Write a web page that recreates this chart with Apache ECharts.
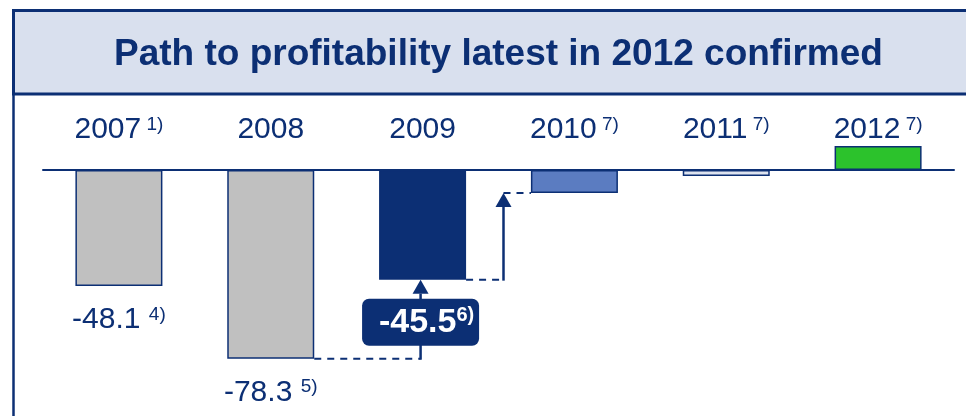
<!DOCTYPE html>
<html>
<head>
<meta charset="utf-8">
<title>Path to profitability</title>
<script src="https://cdn.jsdelivr.net/npm/echarts@6/dist/echarts.min.js"></script>
<style>
  html, body { margin: 0; padding: 0; background: #ffffff; }
  #chart { width: 966px; height: 416px; }
</style>
</head>
<body>
<div id="chart"></div>
<script>
// EBIT by year (EUR m) with footnote markers
const years = ['2007', '2008', '2009', '2010', '2011', '2012'];
const yearNotes = ['1)', '', '', '7)', '7)', '7)'];
const ebit = [-48.1, -78.3, -45.5, -9.5, -2.5, 10];
const valueNotes = ['4)', '5)', '6)', '', '', ''];
// year-to-year improvement arrows: [from index, to index]
const steps = [[1, 2], [2, 3]];
const calloutYear = 2; // value shown in the boxed callout instead of under the bar

const NAVY = '#0c2f74';
const FONT = 'Liberation Sans, Arial, sans-serif';
const barFills = ['#c0c0c0', '#c0c0c0', NAVY, '#5b7cc1', '#dde3ef', '#2cc22c'];
const BAR_W = 87;
const GRID_TOP = 109.75;
const ZERO_Y = 170;

const chart = echarts.init(document.getElementById('chart'), null, { renderer: 'canvas' });

const barData = ebit.map((v, i) => ({
  value: v,
  itemStyle: { color: barFills[i], borderColor: NAVY, borderWidth: 1.5 },
  label: { show: valueNotes[i] !== '' && i !== calloutYear }
}));

function renderStep(params, api) {
  const a = api.value(0);
  const b = api.value(1);
  const pa = api.coord([a, ebit[a]]);
  const pb = api.coord([b, ebit[b]]);
  const half = BAR_W / 2;
  const headH = 14, headW = 16;
  const dashed = { stroke: NAVY, lineWidth: 2, lineDash: [7, 6], fill: null };
  const solid = { stroke: NAVY, lineWidth: 2.5, fill: null };
  const children = [];
  const underTarget = params.dataIndex === 0;
  const ax = underTarget ? pb[0] - 2 : (pa[0] + half + pb[0] - half) / 2 + 5;

  children.push({ type: 'line', shape: { x1: pa[0] + half, y1: pa[1], x2: ax, y2: pa[1] }, style: dashed });
  children.push({ type: 'line', shape: { x1: ax, y1: pa[1] + 1, x2: ax, y2: pb[1] + headH }, style: solid });
  children.push({
    type: 'polygon',
    shape: { points: [[ax, pb[1]], [ax - headW / 2, pb[1] + headH], [ax + headW / 2, pb[1] + headH]] },
    style: { fill: NAVY }
  });
  if (!underTarget) {
    children.push({ type: 'line', shape: { x1: ax, y1: pb[1], x2: pb[0] - half, y2: pb[1] }, style: dashed });
  } else {
    const cy = (pa[1] + pb[1]) / 2 + 3;
    const bw = 117, bh = 47;
    children.push({
      type: 'rect',
      shape: { x: ax - bw / 2, y: cy - bh / 2, width: bw, height: bh, r: 7 },
      style: { fill: NAVY }
    });
    children.push({
      type: 'text',
      x: ax + 6,
      y: cy,
      style: {
        text: '{v|' + ebit[b] + '}{n|' + valueNotes[b] + '}',
        align: 'center',
        verticalAlign: 'middle',
        rich: {
          v: { fontFamily: FONT, fontSize: 34, fontWeight: 'bold', fill: '#ffffff', lineHeight: 34 },
          n: { fontFamily: FONT, fontSize: 20, fontWeight: 'bold', fill: '#ffffff', lineHeight: 20, verticalAlign: 'top' }
        }
      }
    });
  }
  return { type: 'group', children: children };
}

chart.setOption({
  animation: false,
  backgroundColor: '#ffffff',
  title: {
    text: 'Path to profitability latest in 2012 confirmed',
    left: 114,
    top: 36,
    padding: 0,
    z: 10,
    textStyle: { fontFamily: FONT, fontSize: 37, fontWeight: 'bold', color: NAVY, lineHeight: 37 }
  },
  graphic: {
    elements: [
      {
        type: 'rect', z: 0, silent: true,
        shape: { x: 13.5, y: 10.5, width: 980, height: 83.5 },
        style: { fill: '#d9e0ee', stroke: NAVY, lineWidth: 3 }
      },
      {
        type: 'line', z: 0, silent: true,
        shape: { x1: 13.5, y1: 94, x2: 13.5, y2: 420 },
        style: { stroke: NAVY, lineWidth: 2.5 }
      }
    ]
  },
  grid: { left: 43, right: 12, top: GRID_TOP, height: 301.25, containLabel: false },
  xAxis: {
    type: 'category',
    data: years,
    position: 'top',
    axisLine: { onZero: true, lineStyle: { color: NAVY, width: 2 } },
    axisTick: { show: false },
    splitLine: { show: false },
    axisLabel: {
      // year labels sit 25px above the zero line
      margin: GRID_TOP - ZERO_Y + 25,
      interval: 0,
      formatter: (v, i) => '{y|' + v + '}' + (yearNotes[i] ? '{s| ' + yearNotes[i] + '}' : ''),
      rich: {
        y: { fontFamily: FONT, fontSize: 30, color: NAVY, lineHeight: 30 },
        s: { fontFamily: FONT, fontSize: 19, color: NAVY, lineHeight: 19, verticalAlign: 'top' }
      }
    }
  },
  yAxis: {
    type: 'value',
    min: -100,
    max: 25,
    show: false,
    splitLine: { show: false }
  },
  series: [
    {
      type: 'bar',
      data: barData,
      barWidth: BAR_W,
      z: 3,
      label: {
        position: 'outside',
        distance: 19,
        formatter: p => '{v|' + p.value + '}{g| }{n|' + valueNotes[p.dataIndex] + '}',
        rich: {
          v: { fontFamily: FONT, fontSize: 30, color: NAVY, lineHeight: 30 },
          g: { fontFamily: FONT, fontSize: 30, lineHeight: 19 },
          n: { fontFamily: FONT, fontSize: 19, color: NAVY, lineHeight: 19, verticalAlign: 'top' }
        }
      }
    },
    {
      type: 'custom',
      data: steps,
      renderItem: renderStep,
      clip: false,
      z: 5,
      silent: true
    }
  ]
});
</script>
</body>
</html>
